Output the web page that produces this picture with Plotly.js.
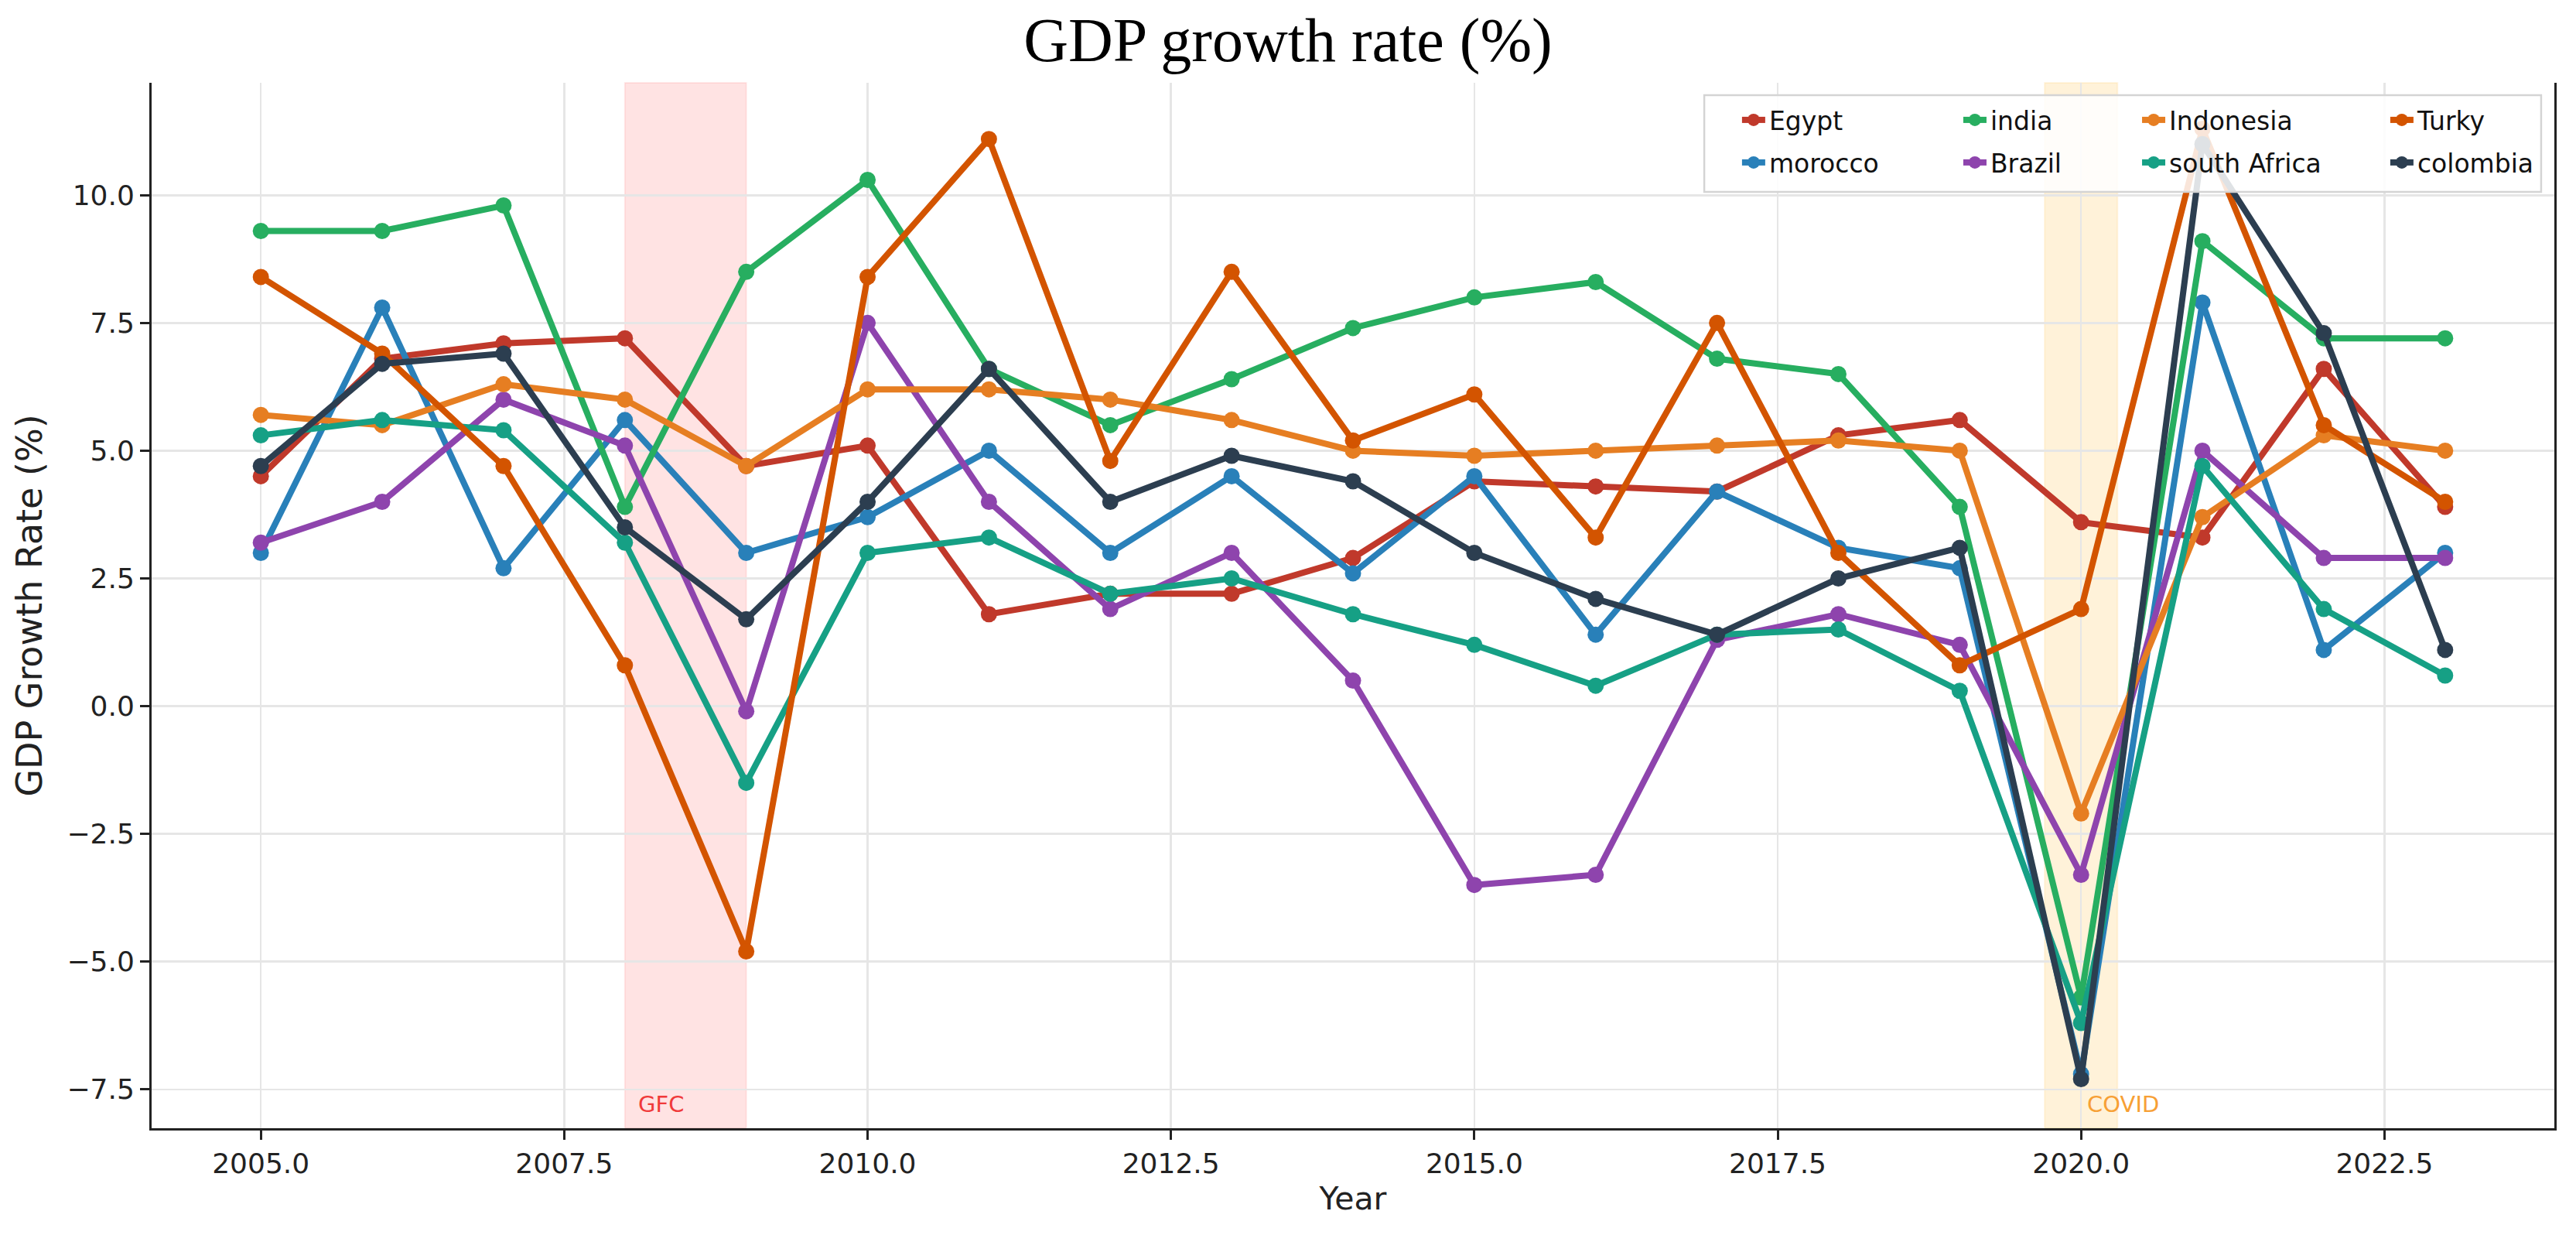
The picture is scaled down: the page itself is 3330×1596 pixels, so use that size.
<!DOCTYPE html>
<html>
<head>
<meta charset="utf-8">
<script src="https://cdn.plot.ly/plotly-3.0.1.min.js"></script>
<style>
  html, body { margin: 0; padding: 0; background: #fff; }
  #chart { width: 3330px; height: 1596px; }
</style>
</head>
<body>
<div id="chart"></div>
<script>
// GDP growth, %
years = [2005, 2006, 2007, 2008, 2009, 2010, 2011, 2012, 2013, 2014,
         2015, 2016, 2017, 2018, 2019, 2020, 2021, 2022, 2023];
egypt       = [4.5, 6.8, 7.1, 7.2, 4.7, 5.1, 1.8, 2.2, 2.2, 2.9, 4.4, 4.3, 4.2, 5.3, 5.6, 3.6, 3.3, 6.6, 3.9];
morocco     = [3.0, 7.8, 2.7, 5.6, 3.0, 3.7, 5.0, 3.0, 4.5, 2.6, 4.5, 1.4, 4.2, 3.1, 2.7, -7.2, 7.9, 1.1, 3.0];
india       = [9.3, 9.3, 9.8, 3.9, 8.5, 10.3, 6.6, 5.5, 6.4, 7.4, 8.0, 8.3, 6.8, 6.5, 3.9, -5.7, 9.1, 7.2, 7.2];
brazil      = [3.2, 4.0, 6.0, 5.1, -0.1, 7.5, 4.0, 1.9, 3.0, 0.5, -3.5, -3.3, 1.3, 1.8, 1.2, -3.3, 5.0, 2.9, 2.9];
indonesia   = [5.7, 5.5, 6.3, 6.0, 4.7, 6.2, 6.2, 6.0, 5.6, 5.0, 4.9, 5.0, 5.1, 5.2, 5.0, -2.1, 3.7, 5.3, 5.0];
southAfrica = [5.3, 5.6, 5.4, 3.2, -1.5, 3.0, 3.3, 2.2, 2.5, 1.8, 1.2, 0.4, 1.4, 1.5, 0.3, -6.2, 4.7, 1.9, 0.6];
turky       = [8.4, 6.9, 4.7, 0.8, -4.8, 8.4, 11.1, 4.8, 8.5, 5.2, 6.1, 3.3, 7.5, 3.0, 0.8, 1.9, 11.3, 5.5, 4.0];
colombia    = [4.7, 6.7, 6.9, 3.5, 1.7, 4.0, 6.6, 4.0, 4.9, 4.4, 3.0, 2.1, 1.4, 2.5, 3.1, -7.3, 11.0, 7.3, 1.1];

names  = ['Egypt', 'morocco', 'india', 'Brazil', 'Indonesia', 'south Africa', 'Turky', 'colombia'];
series = [egypt, morocco, india, brazil, indonesia, southAfrica, turky, colombia];
colors = ['#c0392b', '#2980b9', '#27ae60', '#8e44ad', '#e67e22', '#16a085', '#d35400', '#2c3e50'];

// shaded periods
gfc   = [2008, 2009];
covid = [2019.7, 2020.3];

CHART = document.getElementById('chart');

traces = [];
for (i = 0; i < names.length; i++) {
  traces.push({
    x: years,
    y: series[i],
    type: 'scatter',
    mode: 'lines+markers',
    name: names[i],
    legend: i == 0 ? 'legend' : 'legend' + (i + 1),
    line: {color: colors[i], width: 8},
    marker: {color: colors[i], size: 21},
  });
}

// matplotlib-style 4 column legend: one small legend per entry
legX = [0.6603, 0.7524, 0.8268, 0.9301];
legY = [0.9645, 0.9238];
legFont = {family: 'DejaVu Sans', size: 33, color: '#111'};

layout = {
  width: 3330,
  height: 1596,
  paper_bgcolor: '#fff',
  plot_bgcolor: '#fff',
  margin: {l: 196, r: 28, t: 107, b: 138},
  title: {
    text: 'GDP growth rate (%)',
    font: {family: 'Liberation Serif', size: 80, color: '#000'},
    x: 0.5, xanchor: 'center',
    y: 0.968, yanchor: 'middle', yref: 'container',
  },
  font: {family: 'DejaVu Sans', color: '#222'},
  xaxis: {
    title: {text: 'Year', font: {size: 41, color: '#222'}, standoff: 12},
    range: [2004.1, 2023.9],
    tick0: 2005, dtick: 2.5, tickformat: '.1f',
    tickfont: {size: 36, color: '#222'},
    ticks: 'outside', ticklen: 12, tickwidth: 3, tickcolor: '#222',
    showline: true, linecolor: '#222', linewidth: 3, mirror: false,
    showgrid: true, gridcolor: '#e6e6e6', gridwidth: 2.5,
    zeroline: false,
  },
  yaxis: {
    title: {text: 'GDP Growth Rate (%)', font: {size: 46, color: '#222'}, standoff: 18},
    range: [-8.26, 12.2],
    tick0: 0, dtick: 2.5, tickformat: '.1f',
    tickfont: {size: 36, color: '#222'},
    ticks: 'outside', ticklen: 12, tickwidth: 3, tickcolor: '#222',
    showline: true, linecolor: '#222', linewidth: 3, mirror: true,
    showgrid: true, gridcolor: '#e6e6e6', gridwidth: 2.5,
    zeroline: false,
  },
  showlegend: true,
  shapes: [
    {type: 'rect', xref: 'x', yref: 'paper', x0: gfc[0], x1: gfc[1], y0: 0, y1: 1,
     fillcolor: 'rgba(255,0,0,0.11)', line: {color: 'rgba(255,0,0,0.08)', width: 2}, layer: 'below'},
    {type: 'rect', xref: 'x', yref: 'paper', x0: covid[0], x1: covid[1], y0: 0, y1: 1,
     fillcolor: 'rgba(255,165,0,0.15)', line: {color: 'rgba(255,165,0,0.1)', width: 2}, layer: 'below'},
    {type: 'line', xref: 'paper', yref: 'y', x0: 0, x1: 1, y0: 0, y1: 0,
     line: {color: 'rgba(0,0,0,0.5)', width: 2.5, dash: '14px,6px'}, layer: 'below'},
    // legend frame
    {type: 'rect', xref: 'paper', yref: 'paper', x0: 0.6462, x1: 0.9945, y0: 0.8956, y1: 0.9882,
     fillcolor: 'rgba(255,255,255,0.85)', line: {color: '#d4d4d4', width: 2.5}, layer: 'above'},
  ],
  annotations: [
    {x: 2008.1, y: -7.5, xref: 'x', yref: 'y', text: 'GFC', showarrow: false,
     xanchor: 'left', yanchor: 'top', font: {size: 29, color: '#f03a3a'}},
    {x: 2020.04, y: -7.5, xref: 'x', yref: 'y', text: 'COVID', showarrow: false,
     xanchor: 'left', yanchor: 'top', font: {size: 29, color: '#f7a035'}},
  ],
};

for (i = 0; i < names.length; i++) {
  key = i == 0 ? 'legend' : 'legend' + (i + 1);
  layout[key] = {
    x: legX[Math.floor(i / 2)], xanchor: 'left',
    y: legY[i % 2], yanchor: 'middle',
    bgcolor: 'rgba(0,0,0,0)', borderwidth: 0,
    font: legFont, itemwidth: 30,
  };
}

Plotly.newPlot(CHART, traces, layout, {displayModeBar: false, staticPlot: true});
</script>
</body>
</html>
